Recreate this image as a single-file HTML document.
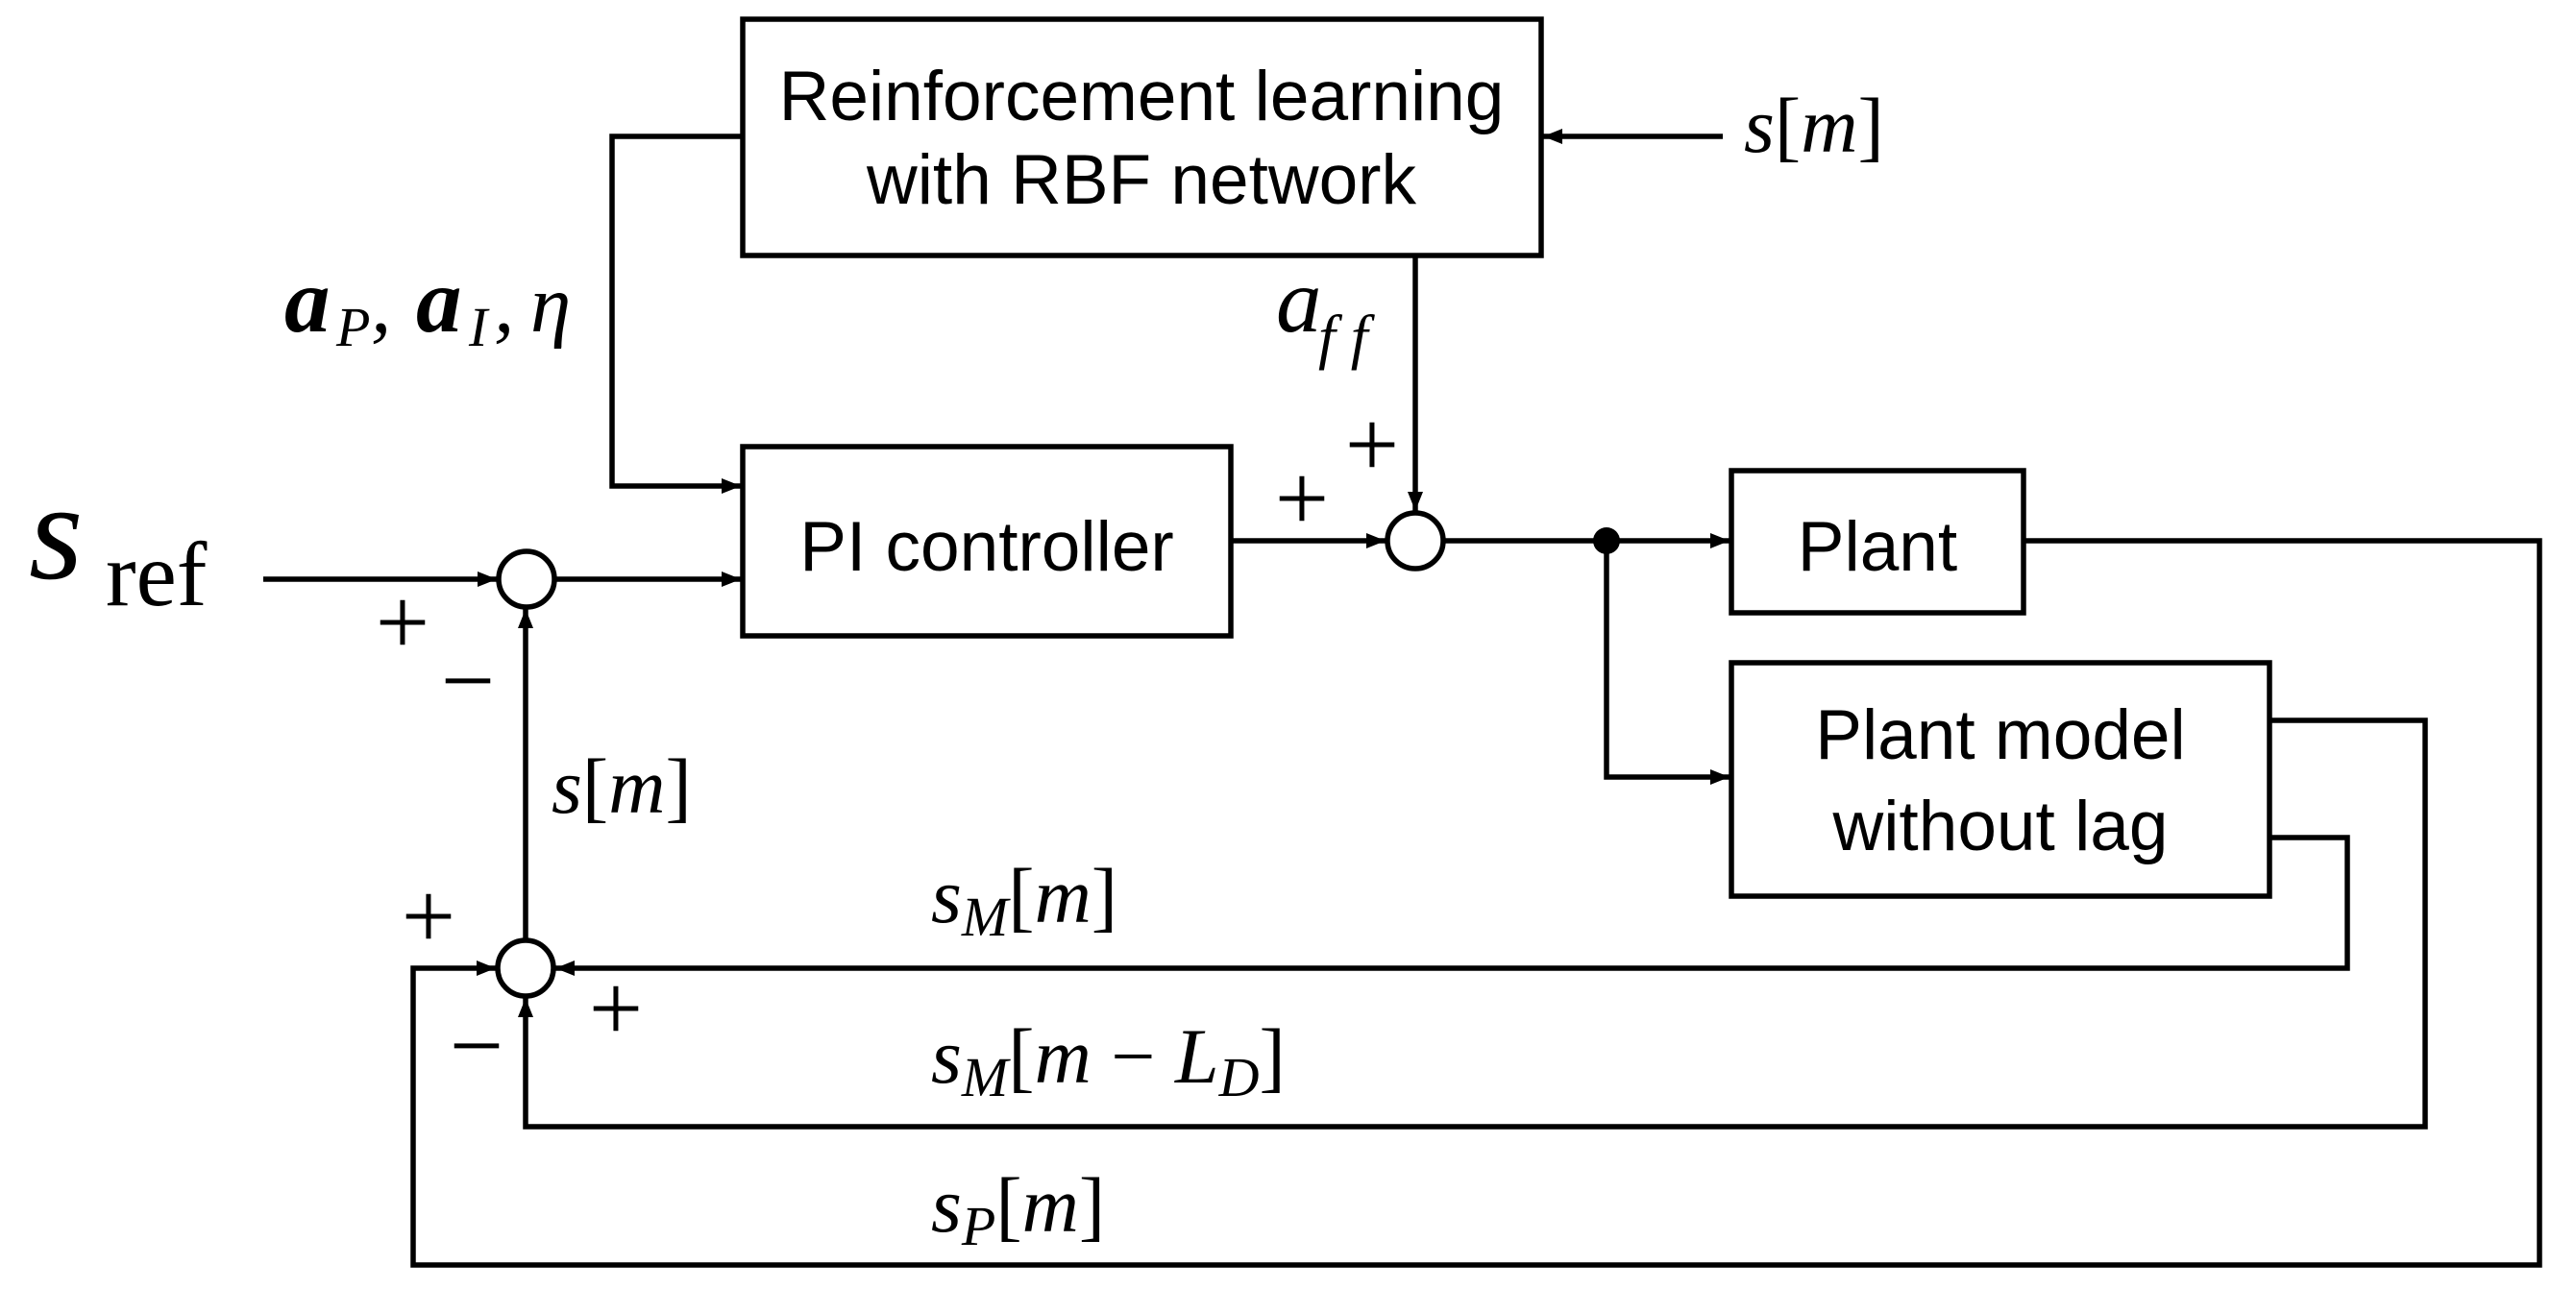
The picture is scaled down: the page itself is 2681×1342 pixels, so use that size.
<!DOCTYPE html>
<html><head><meta charset="utf-8"><style>
html,body{margin:0;padding:0;background:#fff;}
svg{display:block;}
.b{font-family:"Liberation Sans",Arial,sans-serif;font-size:73px;fill:#000;}
.m{font-family:"Liberation Serif","DejaVu Serif",serif;font-style:italic;fill:#000;}
.r{font-family:"Liberation Serif","DejaVu Serif",serif;fill:#000;}
</style></head><body>
<svg width="2681" height="1342" viewBox="0 0 2681 1342" xmlns="http://www.w3.org/2000/svg">
<defs>
<marker id="a" viewBox="0 0 20 16" refX="20" refY="8" markerWidth="20" markerHeight="16" markerUnits="userSpaceOnUse" orient="auto">
<path d="M0,0 L20,8 L0,16 z" fill="#000"/></marker>
</defs>
<g fill="none" stroke="#000" stroke-width="5.5">
<rect x="773" y="20" width="831" height="246"/>
<rect x="773" y="465" width="508" height="197"/>
<rect x="1802" y="490" width="304" height="148"/>
<rect x="1802" y="690" width="560" height="243"/>
<circle cx="548" cy="603" r="29"/>
<circle cx="547" cy="1008" r="29"/>
<circle cx="1473" cy="563" r="29"/>
</g>
<g fill="none" stroke="#000" stroke-width="5.5" stroke-linejoin="miter">
<polyline points="773,142 637,142 637,506 771,506" marker-end="url(#a)"/>
<line x1="274" y1="603" x2="517" y2="603" marker-end="url(#a)"/>
<line x1="577" y1="603" x2="771" y2="603" marker-end="url(#a)"/>
<line x1="1281" y1="563" x2="1442" y2="563" marker-end="url(#a)"/>
<line x1="1473" y1="266" x2="1473" y2="532" marker-end="url(#a)"/>
<line x1="1502" y1="563" x2="1800" y2="563" marker-end="url(#a)"/>
<polyline points="1672,563 1672,809 1800,809" marker-end="url(#a)"/>
<line x1="1793" y1="142" x2="1606" y2="142" marker-end="url(#a)"/>
<line x1="547" y1="979" x2="547" y2="634" marker-end="url(#a)"/>
<polyline points="2106,563 2643,563 2643,1317 430,1317 430,1008 516,1008" marker-end="url(#a)"/>
<polyline points="2362,872 2443,872 2443,1008 578,1008" marker-end="url(#a)"/>
<polyline points="2362,750 2524,750 2524,1173 547,1173 547,1039" marker-end="url(#a)"/>
</g>
<circle cx="1672" cy="563" r="14" fill="#000"/>
<text class="b" x="1188" y="125" text-anchor="middle">Reinforcement learning</text>
<text class="b" x="1188" y="212" text-anchor="middle">with RBF network</text>
<text class="b" x="1027" y="594" text-anchor="middle">PI controller</text>
<text class="b" x="1954" y="594" text-anchor="middle">Plant</text>
<text class="b" x="2082" y="790" text-anchor="middle">Plant model</text>
<text class="b" x="2082" y="885" text-anchor="middle">without lag</text>
<text x="30" y="602" class="m" font-size="145">s</text><text x="110" y="630" class="r" font-size="95">ref</text>
<text x="296" y="345" class="m" font-size="95" font-weight="bold">a</text><text x="350" y="360" class="m" font-size="58">P</text><text x="386" y="345" class="m" font-size="85">,</text>
<text x="433" y="345" class="m" font-size="95" font-weight="bold">a</text><text x="488" y="360" class="m" font-size="58">I</text><text x="514" y="345" class="m" font-size="85">,</text><text x="552" y="345" class="m" font-size="85">η</text>
<text x="1328" y="345" class="m" font-size="95">a</text><text x="1372" y="372" class="m" font-size="64">f f</text>
<text x="1815" y="158" class="m" font-size="82">s<tspan class="r" font-style="normal">[</tspan>m<tspan class="r" font-style="normal">]</tspan></text>
<text x="574" y="846" class="m" font-size="82">s<tspan class="r" font-style="normal">[</tspan>m<tspan class="r" font-style="normal">]</tspan></text>
<text x="969" y="960" class="m" font-size="82">s<tspan font-size="58" dy="14">M</tspan><tspan dy="-14" class="r" font-style="normal">[</tspan>m<tspan class="r" font-style="normal">]</tspan></text>
<text x="969" y="1127" class="m" font-size="82">s<tspan font-size="58" dy="14">M</tspan><tspan dy="-14" class="r" font-style="normal">[</tspan>m <tspan class="r" font-style="normal">−</tspan> L<tspan font-size="58" dy="14">D</tspan><tspan dy="-14" class="r" font-style="normal">]</tspan></text>
<text x="969" y="1282" class="m" font-size="82">s<tspan font-size="58" dy="14">P</tspan><tspan dy="-14" class="r" font-style="normal">[</tspan>m<tspan class="r" font-style="normal">]</tspan></text>
<g class="r" font-size="100" text-anchor="middle">
<text x="419" y="681">+</text>
<text x="487" y="742">−</text>
<text x="446" y="987">+</text>
<text x="641" y="1083">+</text>
<text x="496" y="1122">−</text>
<text x="1428" y="496">+</text>
<text x="1355" y="552">+</text>
</g>
</svg>
</body></html>
